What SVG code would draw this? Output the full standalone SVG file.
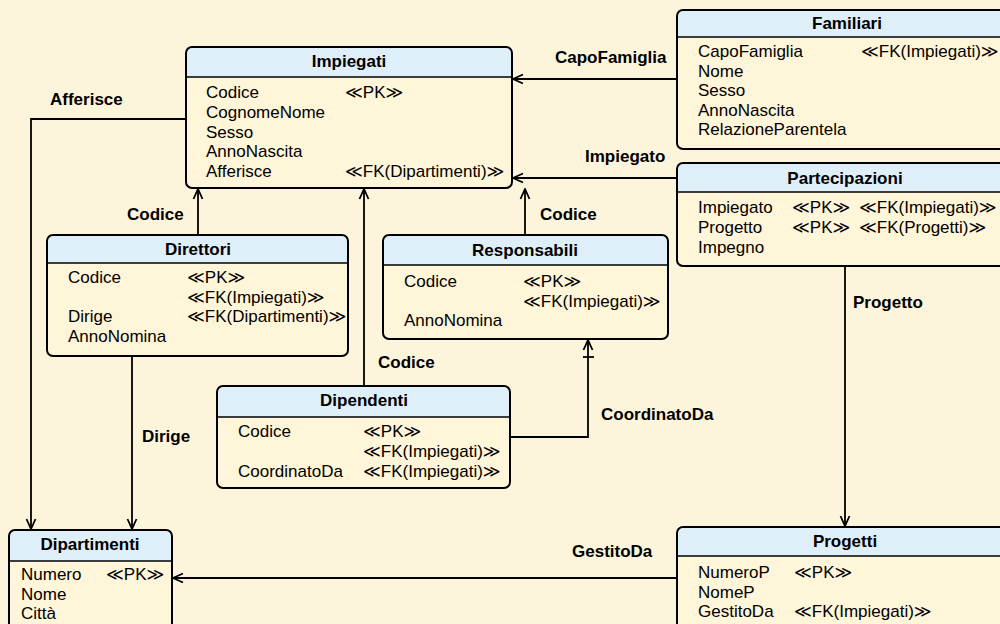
<svg xmlns="http://www.w3.org/2000/svg" width="1000" height="624" viewBox="0 0 1000 624">
<defs>
<marker id="arr" viewBox="0 0 12 12" refX="11" refY="6" markerWidth="12" markerHeight="12" markerUnits="userSpaceOnUse" orient="auto">
<path d="M1,1.5 L11,6 L1,10.5" fill="none" stroke="#000" stroke-width="1.8"/>
</marker>
</defs>
<style>
text{font-family:"Liberation Sans",Arial,"DejaVu Sans",sans-serif;font-size:17px;fill:#000}
.t{font-weight:bold;text-anchor:middle}
.l{font-weight:bold}
.body{fill:#FFF5D8}
.hd{fill:#DFEFFA}
.ol{fill:none;stroke:#000;stroke-width:2}
.dv{stroke:#000;stroke-width:1.6}
.c{fill:none;stroke:#000;stroke-width:1.8}
</style>
<rect x="0" y="0" width="1000" height="624" fill="#FDF5DB"/>

<g id="connectors">
<path class="c" d="M677,79 L513,79" marker-end="url(#arr)"/>
<path class="c" d="M677,178 L513,178" marker-end="url(#arr)"/>
<path class="c" d="M198,235 L198,189" marker-end="url(#arr)"/>
<path class="c" d="M525,235 L525,189" marker-end="url(#arr)"/>
<path class="c" d="M364,386 L364,189" marker-end="url(#arr)"/>
<path class="c" d="M510,437 L588,437 L588,340" marker-end="url(#arr)"/>
<path class="c" d="M583,357 L594,357"/>
<path class="c" d="M132,356 L132,529" marker-end="url(#arr)"/>
<path class="c" d="M186,119 L31,119 L31,529" marker-end="url(#arr)"/>
<path class="c" d="M845,266 L845,526" marker-end="url(#arr)"/>
<path class="c" d="M677,578 L173,578" marker-end="url(#arr)"/>
<text class="l" x="555" y="63">CapoFamiglia</text>
<text class="l" x="585" y="162">Impiegato</text>
<text class="l" x="127" y="220">Codice</text>
<text class="l" x="540" y="220">Codice</text>
<text class="l" x="378" y="368">Codice</text>
<text class="l" x="601" y="420">CoordinatoDa</text>
<text class="l" x="142" y="442">Dirige</text>
<text class="l" x="50" y="105">Afferisce</text>
<text class="l" x="853" y="308">Progetto</text>
<text class="l" x="572" y="557">GestitoDa</text>
</g>

<g id="impiegati">
<rect class="body" x="186" y="47" width="326" height="141" rx="6"/>
<path class="hd" d="M192,47 H506 A6,6 0 0 1 512,53 V77 H186 V53 A6,6 0 0 1 192,47 Z"/>
<line class="dv" x1="186" y1="77" x2="512" y2="77"/>
<rect class="ol" x="186" y="47" width="326" height="141" rx="6"/>
<text class="t" x="349" y="67">Impiegati</text>
<text x="206" y="98">Codice</text><text x="345" y="98">≪PK≫</text>
<text x="206" y="118">CognomeNome</text>
<text x="206" y="138">Sesso</text>
<text x="206" y="157">AnnoNascita</text>
<text x="206" y="177">Afferisce</text><text x="345" y="177">≪FK(Dipartimenti)≫</text>
</g>

<g id="familiari">
<rect class="body" x="677" y="10" width="340" height="139" rx="6"/>
<path class="hd" d="M683,10 H1011 A6,6 0 0 1 1017,16 V37 H677 V16 A6,6 0 0 1 683,10 Z"/>
<line class="dv" x1="677" y1="37" x2="1017" y2="37"/>
<rect class="ol" x="677" y="10" width="340" height="139" rx="6"/>
<text class="t" x="847" y="29">Familiari</text>
<text x="698" y="57">CapoFamiglia</text><text x="861" y="57">≪FK(Impiegati)≫</text>
<text x="698" y="77">Nome</text>
<text x="698" y="96">Sesso</text>
<text x="698" y="116">AnnoNascita</text>
<text x="698" y="135">RelazioneParentela</text>
</g>

<g id="partecipazioni">
<rect class="body" x="677" y="163" width="340" height="103" rx="6"/>
<path class="hd" d="M683,163 H1011 A6,6 0 0 1 1017,169 V192 H677 V169 A6,6 0 0 1 683,163 Z"/>
<line class="dv" x1="677" y1="192" x2="1017" y2="192"/>
<rect class="ol" x="677" y="163" width="340" height="103" rx="6"/>
<text class="t" x="845" y="184">Partecipazioni</text>
<text x="698" y="213">Impiegato</text><text x="792" y="213">≪PK≫</text><text x="859" y="213">≪FK(Impiegati)≫</text>
<text x="698" y="233">Progetto</text><text x="792" y="233">≪PK≫</text><text x="859" y="233">≪FK(Progetti)≫</text>
<text x="698" y="253">Impegno</text>
</g>

<g id="direttori">
<rect class="body" x="47" y="235" width="301" height="121" rx="6"/>
<path class="hd" d="M53,235 H342 A6,6 0 0 1 348,241 V263 H47 V241 A6,6 0 0 1 53,235 Z"/>
<line class="dv" x1="47" y1="263" x2="348" y2="263"/>
<rect class="ol" x="47" y="235" width="301" height="121" rx="6"/>
<text class="t" x="198" y="255">Direttori</text>
<text x="68" y="283">Codice</text><text x="187" y="283">≪PK≫</text>
<text x="187" y="303">≪FK(Impiegati)≫</text>
<text x="68" y="322">Dirige</text><text x="187" y="322">≪FK(Dipartimenti)≫</text>
<text x="68" y="342">AnnoNomina</text>
</g>

<g id="responsabili">
<rect class="body" x="383" y="235" width="285" height="104" rx="6"/>
<path class="hd" d="M389,235 H662 A6,6 0 0 1 668,241 V265 H383 V241 A6,6 0 0 1 389,235 Z"/>
<line class="dv" x1="383" y1="265" x2="668" y2="265"/>
<rect class="ol" x="383" y="235" width="285" height="104" rx="6"/>
<text class="t" x="525" y="256">Responsabili</text>
<text x="404" y="287">Codice</text><text x="523" y="287">≪PK≫</text>
<text x="523" y="307">≪FK(Impiegati)≫</text>
<text x="404" y="326">AnnoNomina</text>
</g>

<g id="dipendenti">
<rect class="body" x="217" y="386" width="293" height="102" rx="6"/>
<path class="hd" d="M223,386 H504 A6,6 0 0 1 510,392 V417 H217 V392 A6,6 0 0 1 223,386 Z"/>
<line class="dv" x1="217" y1="417" x2="510" y2="417"/>
<rect class="ol" x="217" y="386" width="293" height="102" rx="6"/>
<text class="t" x="364" y="406">Dipendenti</text>
<text x="238" y="437">Codice</text><text x="363" y="437">≪PK≫</text>
<text x="363" y="457">≪FK(Impiegati)≫</text>
<text x="238" y="477">CoordinatoDa</text><text x="363" y="477">≪FK(Impiegati)≫</text>
</g>

<g id="dipartimenti">
<rect class="body" x="9" y="530" width="163" height="110" rx="6"/>
<path class="hd" d="M15,530 H166 A6,6 0 0 1 172,536 V561 H9 V536 A6,6 0 0 1 15,530 Z"/>
<line class="dv" x1="9" y1="561" x2="172" y2="561"/>
<rect class="ol" x="9" y="530" width="163" height="110" rx="6"/>
<text class="t" x="90" y="550">Dipartimenti</text>
<text x="21" y="580">Numero</text><text x="106" y="580">≪PK≫</text>
<text x="21" y="600">Nome</text>
<text x="21" y="619">Città</text>
</g>

<g id="progetti">
<rect class="body" x="677" y="527" width="340" height="113" rx="6"/>
<path class="hd" d="M683,527 H1011 A6,6 0 0 1 1017,533 V556 H677 V533 A6,6 0 0 1 683,527 Z"/>
<line class="dv" x1="677" y1="556" x2="1017" y2="556"/>
<rect class="ol" x="677" y="527" width="340" height="113" rx="6"/>
<text class="t" x="845" y="547">Progetti</text>
<text x="698" y="578">NumeroP</text><text x="794" y="578">≪PK≫</text>
<text x="698" y="598">NomeP</text>
<text x="698" y="617">GestitoDa</text><text x="794" y="617">≪FK(Impiegati)≫</text>
</g>
</svg>
